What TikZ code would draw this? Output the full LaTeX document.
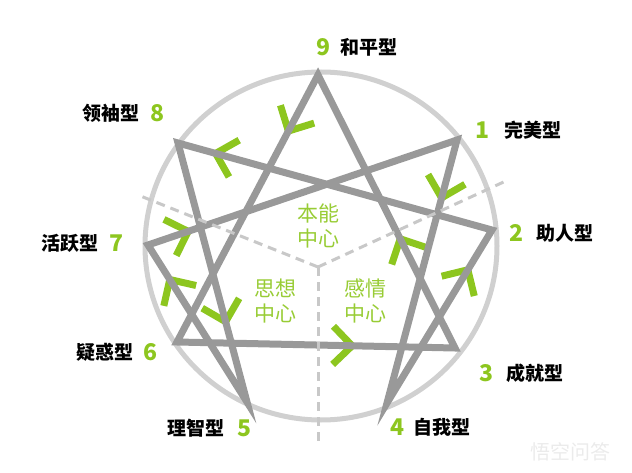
\documentclass[tikz,border=0pt]{standalone}
\usepackage{fontspec}
\newfontfamily\cjk{Noto Sans CJK SC}
\usetikzlibrary{calc,positioning}
\definecolor{leaf}{RGB}{141,198,31}
\definecolor{starg}{RGB}{153,153,153}
\definecolor{ringg}{RGB}{208,208,208}
\definecolor{dashg}{RGB}{200,200,200}
% green chevron on the line #1--#2, pointing away from #1
\newcommand\flow[3]{%
\coordinate (tip) at ($(#1)!#3!(#2)$);
\draw[chev] ($(tip)!27pt!45:(#1)$) -- (tip) -- ($(tip)!27pt!-45:(#1)$);}
\begin{document}
\begin{tikzpicture}[x=1pt,y=-1pt,
num/.style={font=\cjk\bfseries\fontsize{23}{23}\selectfont, text=leaf, inner sep=0pt},
typ/.style={font=\cjk\bfseries\fontsize{19}{19}\selectfont, inner sep=0pt},
centre/.style={font=\cjk\fontsize{21}{25}\selectfont, text=leaf!90, align=center, inner sep=0pt},
star/.style={starg, line width=7pt, line join=miter},
chev/.style={leaf, line width=7pt, line join=miter},
sector/.style={dashg, line width=3pt, dash pattern=on 9pt off 6pt}]
\useasboundingbox (0,0) rectangle (632,473);

\coordinate (p9) at (318,75);
\coordinate (p1) at (457,140);
\coordinate (p2) at (492,230);
\coordinate (p3) at (455,348);
\coordinate (p4) at (387,403);
\coordinate (p5) at (247,402);
\coordinate (p6) at (177,342);
\coordinate (p7) at (148,245);
\coordinate (p8) at (178,143);
\coordinate (mid) at (321,246);
\coordinate (hub) at (318,267);
\coordinate (e1) at (138,195);
\coordinate (e2) at (508,180);
\coordinate (e3) at (318,442);

\draw[ringg, line width=5pt] (mid) ellipse [x radius=176pt, y radius=174pt];

\flow{p9}{p6}{0.21}
\flow{p2}{p8}{0.88}
\flow{p1}{p4}{0.22}
\flow{p7}{p1}{0.13}
\flow{p5}{p7}{0.78}
\flow{p8}{p5}{0.69}
\flow{p6}{p3}{0.63}
\flow{p3}{p9}{0.40}
\flow{p4}{p2}{0.77}

\draw[star] (p9) -- (p6) -- (p3) -- cycle;
\draw[star] (p1) -- (p4) -- (p2) -- (p8) -- (p5) -- (p7) -- cycle;

\draw[sector] (hub) -- (e1);
\draw[sector] (hub) -- (e2);
\draw[sector] (hub) -- (e3);

\node[centre] (c1) at (318,226) {本能\\中心};
\node[centre] (c2) at (275,301) {思想\\中心};
\node[centre] (c3) at (365,301) {感情\\中心};

\node[num] (n9) at (324,47) {9};
\node[typ, right=9pt of n9] (t9) {和平型};
\node[num] (n1) at (482,130) {1};
\node[typ, right=15pt of n1] (t1) {完美型};
\node[num] (n2) at (516,233) {2};
\node[typ, right=13pt of n2] (t2) {助人型};
\node[num] (n3) at (486,373) {3};
\node[typ, right=13pt of n3] (t3) {成就型};
\node[num] (n4) at (397,427) {4};
\node[typ, right=9pt of n4] (t4) {自我型};
\node[num] (n5) at (245,428) {5};
\node[typ, left=13pt of n5] (t5) {理智型};
\node[num] (n6) at (151,352) {6};
\node[typ, left=10pt of n6] (t6) {疑惑型};
\node[num] (n7) at (117,243) {7};
\node[typ, left=11pt of n7] (t7) {活跃型};
\node[num] (n8) at (158,113) {8};
\node[typ, left=11pt of n8] (t8) {领袖型};

\node[font=\cjk\fontsize{20}{20}\selectfont, text=black!8] (mark) at (570,452) {悟空问答};
\end{tikzpicture}
\end{document}
